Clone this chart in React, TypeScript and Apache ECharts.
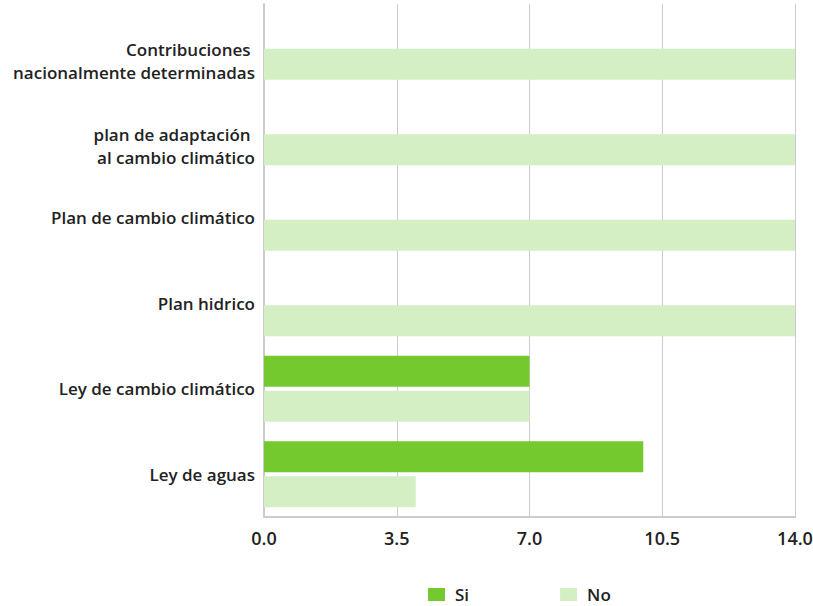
import React, { useEffect, useRef } from "react";
import * as echarts from "echarts";

const categories = [
  "Ley de aguas",
  "Ley de cambio climático",
  "Plan hidrico",
  "Plan de cambio climático",
  "plan de adaptación \nal cambio climático",
  "Contribuciones \nnacionalmente determinadas",
];
const siValues = [10, 7, 0, 0, 0, 0];
const noValues = [4, 7, 14, 14, 14, 14];
const xTicks = { min: 0, max: 14, interval: 3.5 };

const FONT = "'Open Sans', sans-serif";

export default function App() {
  const ref = useRef<HTMLDivElement>(null);
  useEffect(() => {
    if (!ref.current) return;
    const chart = echarts.init(ref.current, undefined, { renderer: "svg" });
    const labelStyle = {
      fontFamily: FONT,
      fontSize: 17,
      fontWeight: 600,
      color: "#222",
      lineHeight: 23,
      align: "right",
    };
    chart.setOption({
      animation: false,
      textStyle: { fontFamily: FONT },
      grid: {
        left: 264,
        right: 18,
        top: 4,
        bottom: 89,
        containLabel: false,
        outerBoundsMode: "none",
      },
      legend: {
        left: 423,
        top: 581,
        itemWidth: 17,
        itemHeight: 13,
        itemGap: 91,
        icon: "rect",
        textStyle: {
          fontFamily: FONT,
          fontSize: 17,
          fontWeight: 600,
          color: "#222",
          padding: [0, 0, 0, 5],
        },
        data: ["Si", "No"],
      },
      xAxis: {
        type: "value",
        min: xTicks.min,
        max: xTicks.max,
        interval: xTicks.interval,
        axisLine: { show: true, lineStyle: { color: "#ccc", width: 2 } },
        axisTick: { show: false },
        splitLine: { show: true, lineStyle: { color: "#ccc", width: 1 } },
        axisLabel: {
          formatter: (v: number) => v.toFixed(1),
          fontFamily: FONT,
          fontSize: 18,
          fontWeight: 600,
          color: "#222",
          margin: 12,
        },
      },
      yAxis: {
        type: "category",
        data: categories,
        axisLine: { show: true, lineStyle: { color: "#ccc", width: 2 } },
        axisTick: { show: false },
        axisLabel: {
          ...labelStyle,
          margin: 9,
          formatter: (v: string) => {
            if (!v.includes("\n")) return `{a|${v}}`;
            const lines = v.split("\n");
            return `{g| }\n` + lines.map((l) => `{a|${l}}`).join("\n");
          },
          rich: {
            a: { ...labelStyle },
            g: { fontSize: 1, lineHeight: 28, height: 28, align: "right" },
          },
        },
      },
      series: [
        {
          name: "Si",
          type: "bar",
          data: siValues,
          barWidth: 31,
          barGap: "13%",
          itemStyle: { color: "#74c92f" },
        },
        {
          name: "No",
          type: "bar",
          data: noValues,
          barWidth: 31,
          barGap: "13%",
          itemStyle: { color: "#d5efc5" },
        },
      ],
    });
    return () => chart.dispose();
  }, []);
  return (
    <div
      ref={ref}
      style={{ position: "absolute", left: 0, top: 0, width: 813, height: 606 }}
    />
  );
}
